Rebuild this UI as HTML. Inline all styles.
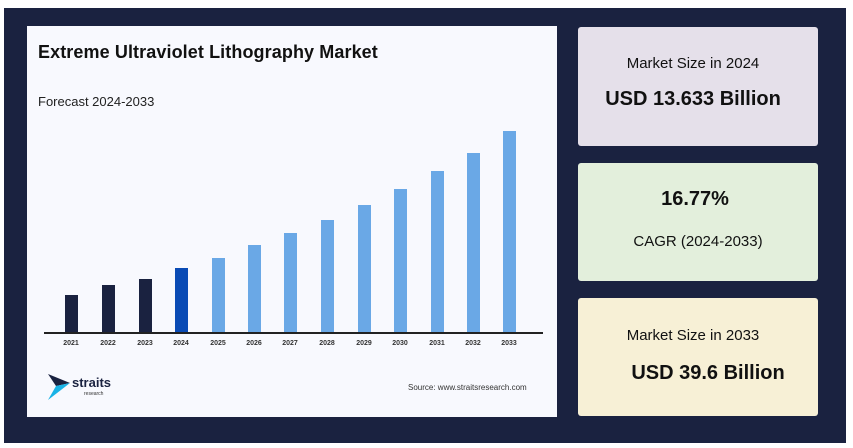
<!DOCTYPE html><html><head><style>
body{margin:0;width:853px;height:448px;background:#fff;position:relative;font-family:"Liberation Sans",sans-serif;overflow:hidden}
.frame{position:absolute;left:4px;top:8px;width:842px;height:435px;background:#1a2240}
.panel{position:absolute;left:27px;top:26px;width:530px;height:391px;background:#f8f9fe}
.card{position:absolute;left:578px;width:240px;border-radius:3px;text-align:center;color:#111}
.bar{position:absolute;width:13px;bottom:116px}
.lbl{position:absolute;top:340px;font-size:7px;font-weight:bold;color:#333;width:30px;text-align:center}
</style></head><body>
<div class="frame"></div>
<div class="panel"></div>
<div style="position:absolute;left:38px;top:42px;font-size:18px;font-weight:bold;color:#111;letter-spacing:0.1px">Extreme Ultraviolet Lithography Market</div>
<div style="position:absolute;left:38px;top:94px;font-size:13px;color:#222">Forecast 2024-2033</div>
<div style="position:absolute;left:44px;top:332px;width:499px;height:1.5px;background:#222"></div>
<div id="bars"></div>
<script>
var c=[71,108,145,181,218,254,290,327,364,400,437,473,509],t=[295,285,279,268,258,245,233,220,205,189,171,153,131];
var h='';for(var i=0;i<13;i++){var col=i<3?'#1a2240':(i==3?'#0a4bb5':'#6aa8e6');
h+='<div class="bar" style="left:'+(c[i]-6.5)+'px;top:'+t[i]+'px;height:'+(332-t[i])+'px;background:'+col+'"></div>';
h+='<div class="lbl" style="left:'+(c[i]-15)+'px">'+(2021+i)+'</div>';}
document.getElementById('bars').innerHTML=h;
</script>
<svg style="position:absolute;left:48px;top:374px" width="24" height="26"><polygon points="0,0 22,9 8,12" fill="#1a2240"/><polygon points="8,12 22,9 0,26" fill="#19b3e6"/></svg>
<div style="position:absolute;left:72px;top:375px;font-size:13px;font-weight:bold;color:#1a2240">straits</div>
<div style="position:absolute;left:84px;top:391px;font-size:5px;color:#333">research</div>
<div style="position:absolute;left:408px;top:383px;font-size:8px;color:#333">Source: www.straitsresearch.com</div>
<div class="card" style="top:27px;height:119px;background:#e5e0ea">
<div style="margin-top:28px;padding-right:10px;font-size:15px">Market Size in 2024</div>
<div style="margin-top:16px;padding-right:10px;font-size:20px;font-weight:bold">USD 13.633 Billion</div></div>
<div class="card" style="top:163px;height:118px;background:#e3efdc">
<div style="margin-top:25px;padding-right:6px;font-size:20px;font-weight:bold">16.77%</div>
<div style="margin-top:22px;font-size:15px">CAGR (2024-2033)</div></div>
<div class="card" style="top:298px;height:118px;background:#f7f0d6">
<div style="margin-top:29px;padding-right:10px;font-size:15px">Market Size in 2033</div>
<div style="margin-top:18px;padding-left:20px;font-size:20px;font-weight:bold">USD 39.6 Billion</div></div>
</body></html>
